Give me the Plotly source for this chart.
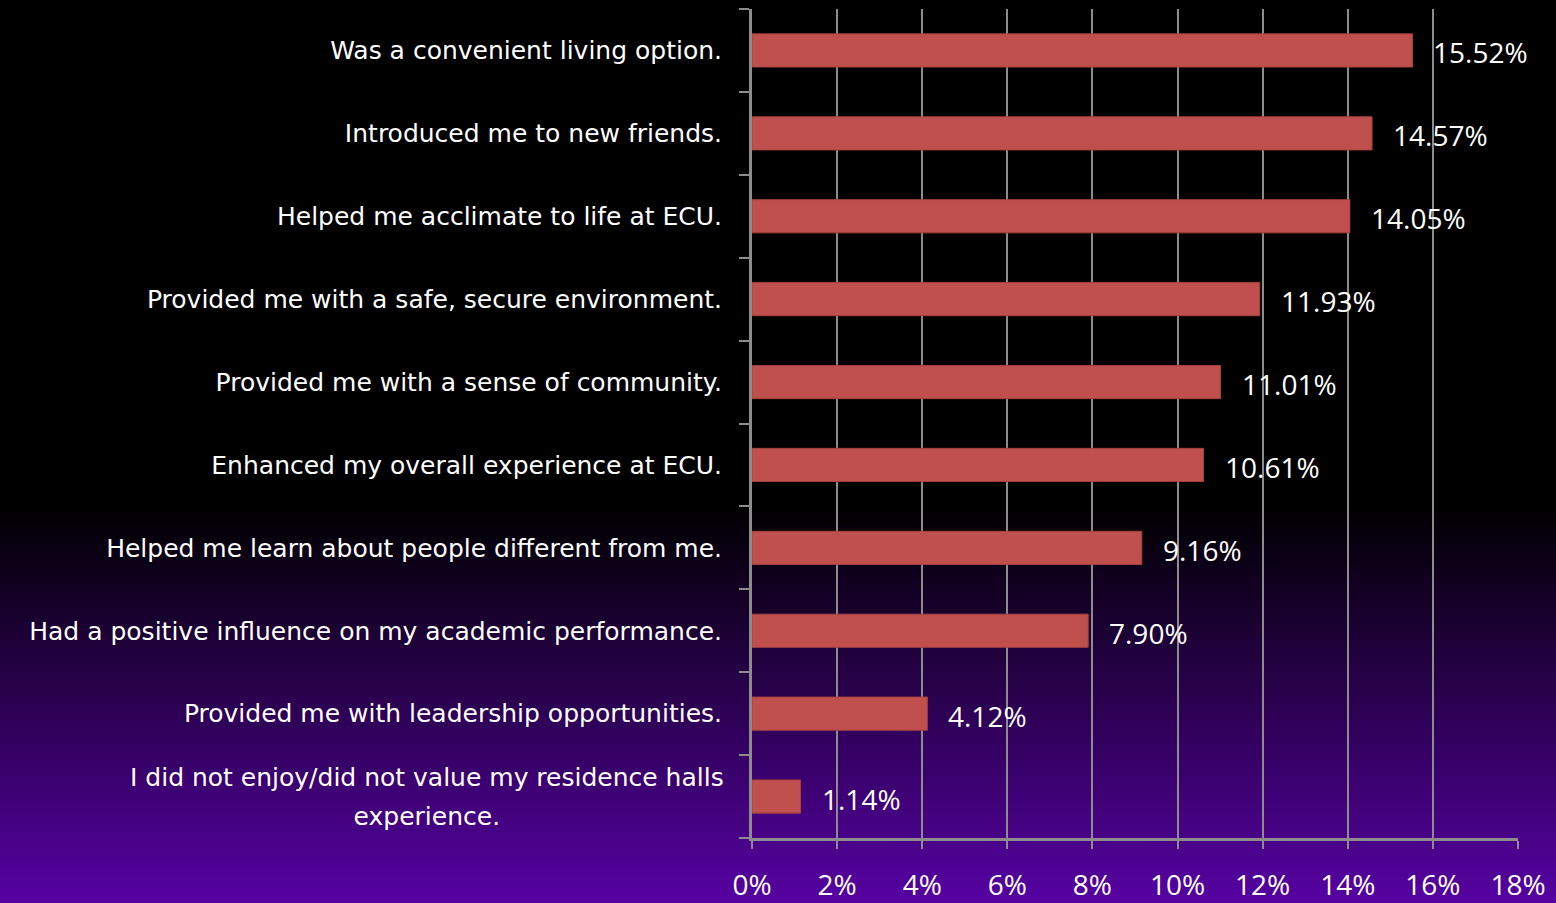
import plotly.graph_objects as go

# Survey responses: how living in the residence halls helped students
categories = [
    "Was a convenient living option.",
    "Introduced me to new friends.",
    "Helped me acclimate to life at ECU.",
    "Provided me with a safe, secure environment.",
    "Provided me with a sense of community.",
    "Enhanced my overall experience at ECU.",
    "Helped me learn about people different from me.",
    "Had a positive influence on my academic performance.",
    "Provided me with leadership opportunities.",
    "I did not enjoy/did not value my residence halls<br>experience.",
]
percentages = [15.52, 14.57, 14.05, 11.93, 11.01, 10.61, 9.16, 7.90, 4.12, 1.14]
x_ticks = [0, 2, 4, 6, 8, 10, 12, 14, 16, 18]
x_tick_labels = [f"{v}%" for v in x_ticks]

LABEL_FONT = "'DejaVu Sans', sans-serif"
NUM_FONT = "'Open Sans', 'Noto Sans', sans-serif"
LABEL_FS = 25
NUM_FS = 28
BAR_COLOR = "#C0504D"
GRID_COLOR = "#8C8C8C"
W, H = 1556, 903
M_L, M_R, M_T, M_B = 752, 38, 9, 65
PLOT_H = H - M_T - M_B

# multi-line category labels are drawn as centred annotations instead of tick text
tick_text = ["" if "<br>" in c else c for c in categories]

fig = go.Figure()

fig.add_trace(go.Bar(
    x=percentages,
    y=categories,
    orientation="h",
    marker=dict(color=BAR_COLOR, line=dict(color="#A8403D", width=1)),
    width=0.4,
    hoverinfo="skip",
))

annotations = []
# value labels to the right of each bar
for cat, val in zip(categories, percentages):
    annotations.append(dict(
        x=val, y=cat, xref="x", yref="y",
        text=f"{val:.2f}%", showarrow=False,
        xanchor="left", yanchor="middle", xshift=19, yshift=-2,
        font=dict(family=NUM_FONT, size=NUM_FS, color="white"),
    ))
for cat in categories:
    if "<br>" in cat:
        lines = cat.split("<br>")
        styled = "<br>".join(
            f"<span style='font-size:{LABEL_FS}px'>{ln}</span>" for ln in lines
        )
        annotations.append(dict(
            x=0, y=cat, xref="paper", yref="y",
            text=styled, showarrow=False, align="center",
            xanchor="right", yanchor="middle", xshift=-26,
            # larger base size widens the gap between the two lines
            font=dict(family=LABEL_FONT, size=30, color="white"),
        ))

# vertical background gradient: black at top fading to purple at the bottom
def px_to_paper(py):
    return (H - M_B - py) / PLOT_H

shapes = []
fade_start = 505  # pixel row where the purple begins
end_rgb = (86, 2, 162)
step = 4
for py in range(0, H, step):
    mid = py + step / 2
    t = 0.0 if mid <= fade_start else (mid - fade_start) / (H - fade_start)
    r, g, b = (int(round(c * t)) for c in end_rgb)
    shapes.append(dict(
        type="rect", xref="paper", yref="paper",
        x0=-1.5, x1=1.5,
        y0=px_to_paper(py + step + 0.5), y1=px_to_paper(py - 0.5),
        fillcolor=f"rgb({r},{g},{b})", line=dict(width=0), layer="below",
    ))

fig.update_layout(
    width=W, height=H,
    margin=dict(l=M_L, r=M_R, t=M_T, b=M_B, autoexpand=False),
    paper_bgcolor="black",
    plot_bgcolor="rgba(0,0,0,0)",
    showlegend=False,
    bargap=0.6,
    shapes=shapes,
    annotations=annotations,
    font=dict(family=LABEL_FONT, color="white"),
    xaxis=dict(
        range=[0, 18],
        tickvals=x_ticks,
        ticktext=x_tick_labels,
        showgrid=True, gridcolor=GRID_COLOR, gridwidth=2,
        showline=True, linecolor=GRID_COLOR, linewidth=3,
        ticks="outside", ticklen=8, tickwidth=2, tickcolor=GRID_COLOR,
        tickfont=dict(family=NUM_FONT, size=NUM_FS, color="white"),
        ticklabelstandoff=12,
        automargin=False,
        zeroline=False, fixedrange=True,
    ),
    yaxis=dict(
        categoryorder="array", categoryarray=categories,
        tickmode="array", tickvals=categories, ticktext=tick_text,
        autorange="reversed",
        showgrid=False,
        showline=True, linecolor=GRID_COLOR, linewidth=3,
        ticks="outside", ticklen=10, tickwidth=2, tickcolor=GRID_COLOR,
        tickson="boundaries",
        tickfont=dict(family=LABEL_FONT, size=LABEL_FS, color="white"),
        ticklabelstandoff=22,
        automargin=False,
        fixedrange=True,
    ),
)

fig.write_html("out.html")
